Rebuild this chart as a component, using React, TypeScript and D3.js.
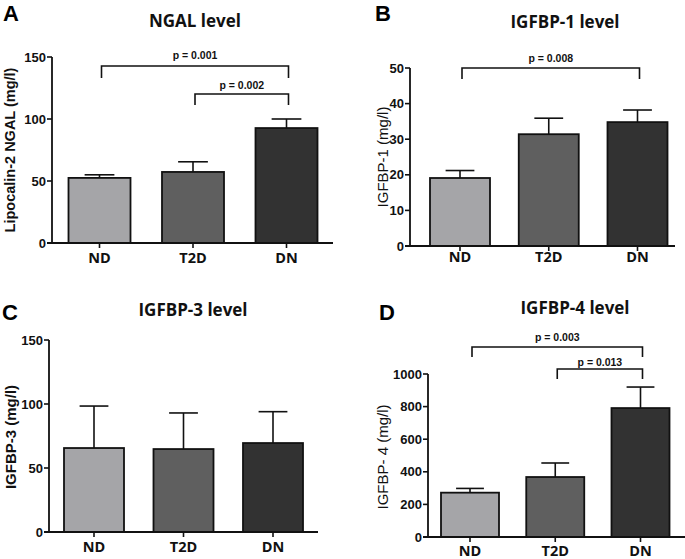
import React from "react";
import * as d3 from "d3";

const categories = ["ND", "T2D", "DN"];

const ngalMean = [52.5, 57.3, 92.7];
const ngalSem = [2.5, 8.2, 7.3];
const ngalTicks = [0, 50, 100, 150];

const igfbp1Mean = [19.1, 31.4, 34.8];
const igfbp1Sem = [2.1, 4.5, 3.4];
const igfbp1Ticks = [0, 10, 20, 30, 40, 50];

const igfbp3Mean = [65.6, 64.8, 69.5];
const igfbp3Sem = [32.8, 28.2, 24.5];
const igfbp3Ticks = [0, 50, 100, 150];

const igfbp4Mean = [272, 368, 791];
const igfbp4Sem = [26, 86, 129];
const igfbp4Ticks = [0, 200, 400, 600, 800, 1000];

const barColors = ["#a5a5a8", "#5f5f5f", "#323232"];

type Bracket = { from: number; to: number; label: string; y: number; drop: number; ly: number };

type PanelCfg = {
  letter: string;
  letterX: number;
  letterY: number;
  title: string;
  titleX: number;
  titleY: number;
  yLabel: string;
  yLabelX: number;
  yLabelY: number;
  yLabelWeight: number;
  yLabelSize: number;
  axisX: number;
  axisRight: number;
  y0: number;
  yTop: number;
  yMax: number;
  ticks: number[];
  firstCenter: number;
  lastCenter: number;
  barWidth: number;
  xLabelY: number;
  means: number[];
  sems: number[];
  brackets: Bracket[];
};

const panels: PanelCfg[] = [
  {
    letter: "A", letterX: 3, letterY: 20.5,
    title: "NGAL level", titleX: 195, titleY: 27,
    yLabel: "Lipocalin-2 NGAL (mg/l)", yLabelX: 10, yLabelY: 150,
    yLabelWeight: 700, yLabelSize: 14.5,
    axisX: 52, axisRight: 333, y0: 243, yTop: 57, yMax: 150, ticks: ngalTicks,
    firstCenter: 99.5, lastCenter: 286.5, barWidth: 62, xLabelY: 263,
    means: ngalMean, sems: ngalSem,
    brackets: [
      { from: 0, to: 2, label: "p = 0.001", y: 66, drop: 12, ly: 59 },
      { from: 1, to: 2, label: "p = 0.002", y: 94, drop: 11, ly: 89 },
    ],
  },
  {
    letter: "B", letterX: 375, letterY: 20.5,
    title: "IGFBP-1 level", titleX: 565, titleY: 28,
    yLabel: "IGFBP-1 (mg/l)", yLabelX: 382, yLabelY: 157,
    yLabelWeight: 400, yLabelSize: 15,
    axisX: 410, axisRight: 675, y0: 246, yTop: 68, yMax: 50, ticks: igfbp1Ticks,
    firstCenter: 460, lastCenter: 637.5, barWidth: 60, xLabelY: 262,
    means: igfbp1Mean, sems: igfbp1Sem,
    brackets: [{ from: 0, to: 2, label: "p = 0.008", y: 68, drop: 11, ly: 62 }],
  },
  {
    letter: "C", letterX: 2, letterY: 320,
    title: "IGFBP-3 level", titleX: 193, titleY: 316,
    yLabel: "IGFBP-3 (mg/l)", yLabelX: 10, yLabelY: 437,
    yLabelWeight: 700, yLabelSize: 15,
    axisX: 49, axisRight: 318, y0: 532, yTop: 340, yMax: 150, ticks: igfbp3Ticks,
    firstCenter: 94, lastCenter: 273, barWidth: 60, xLabelY: 552,
    means: igfbp3Mean, sems: igfbp3Sem,
    brackets: [],
  },
  {
    letter: "D", letterX: 379, letterY: 320,
    title: "IGFBP-4 level", titleX: 575, titleY: 314,
    yLabel: "IGFBP- 4 (mg/l)", yLabelX: 382, yLabelY: 457,
    yLabelWeight: 400, yLabelSize: 15,
    axisX: 428, axisRight: 685, y0: 537, yTop: 374, yMax: 1000, ticks: igfbp4Ticks,
    firstCenter: 470, lastCenter: 640.5, barWidth: 58, xLabelY: 556,
    means: igfbp4Mean, sems: igfbp4Sem,
    brackets: [
      { from: 0, to: 2, label: "p = 0.003", y: 347, drop: 10, ly: 341 },
      { from: 1, to: 2, label: "p = 0.013", y: 369, drop: 10, ly: 366 },
    ],
  },
];

const openSans = "'Open Sans', sans-serif";
const arial = "'Liberation Sans', Arial, sans-serif";

function Panel({ p }: { p: PanelCfg }) {
  const y = d3.scaleLinear().domain([0, p.yMax]).range([p.y0, p.yTop]);
  const step = (p.lastCenter - p.firstCenter) / (categories.length - 1);
  const x = d3
    .scalePoint<string>()
    .domain(categories)
    .range([p.firstCenter - step / 2, p.lastCenter + step / 2])
    .padding(0.5);
  const capW = p.barWidth * 0.48;
  return (
    <g>
      <text x={p.letterX} y={p.letterY} fontFamily={arial} fontWeight={700} fontSize={22} fill="#000">
        {p.letter}
      </text>
      <text x={p.titleX} y={p.titleY} textAnchor="middle" fontFamily={openSans} fontWeight={700} fontSize={17} fill="#111">
        {p.title}
      </text>
      <text
        transform={`translate(${p.yLabelX},${p.yLabelY}) rotate(-90)`}
        textAnchor="middle"
        dominantBaseline="central"
        fontFamily={arial}
        fontWeight={p.yLabelWeight}
        fontSize={p.yLabelSize}
        fill="#111"
      >
        {p.yLabel}
      </text>
      {categories.map((c, i) => {
        const cx = x(c)!;
        const top = y(p.means[i] + p.sems[i]);
        return (
          <g key={"e" + c}>
            <line x1={cx} x2={cx} y1={y(p.means[i])} y2={top} stroke="#111" strokeWidth={1.6} />
            <line x1={cx - capW / 2} x2={cx + capW / 2} y1={top} y2={top} stroke="#111" strokeWidth={1.6} />
          </g>
        );
      })}
      {categories.map((c, i) => {
        const cx = x(c)!;
        return (
          <rect
            key={"b" + c}
            x={cx - p.barWidth / 2}
            y={y(p.means[i])}
            width={p.barWidth}
            height={p.y0 - y(p.means[i])}
            fill={barColors[i]}
            stroke="#111"
            strokeWidth={1.8}
          />
        );
      })}
      <line x1={p.axisX} x2={p.axisX} y1={p.yTop} y2={p.y0} stroke="#111" strokeWidth={1.8} />
      {p.ticks.map((t) => (
        <g key={"t" + t}>
          <line x1={p.axisX - 5} x2={p.axisX} y1={y(t)} y2={y(t)} stroke="#111" strokeWidth={1.6} />
          <text
            x={p.axisX - 6}
            y={y(t)}
            textAnchor="end"
            dominantBaseline="central"
            fontFamily={arial}
            fontWeight={700}
            fontSize={13}
            fill="#111"
          >
            {t}
          </text>
        </g>
      ))}
      <line x1={p.axisX - 5} x2={p.axisRight} y1={p.y0} y2={p.y0} stroke="#111" strokeWidth={1.8} />
      {categories.map((c) => (
        <g key={"x" + c}>
          <line x1={x(c)!} x2={x(c)!} y1={p.y0} y2={p.y0 + 5} stroke="#111" strokeWidth={1.6} />
          <text x={x(c)!} y={p.xLabelY} textAnchor="middle" fontFamily={openSans} fontWeight={700} fontSize={14.5} fill="#111">
            {c}
          </text>
        </g>
      ))}
      {p.brackets.map((b) => {
        const x1 = x(categories[b.from])! + 2;
        const x2 = x(categories[b.to])! + 2;
        return (
          <g key={b.label}>
            <path
              d={`M${x1},${b.y + b.drop}V${b.y}H${x2}V${b.y + b.drop}`}
              fill="none"
              stroke="#111"
              strokeWidth={1.6}
            />
            <text x={(x1 + x2) / 2} y={b.ly} textAnchor="middle" fontFamily={arial} fontWeight={700} fontSize={10.5} fill="#111">
              {b.label}
            </text>
          </g>
        );
      })}
    </g>
  );
}

export default function App() {
  return (
    <svg
      width={685}
      height={559}
      viewBox="0 0 685 559"
      style={{ position: "absolute", left: 0, top: 0, background: "#fff" }}
    >
      <rect width={685} height={559} fill="#fff" />
      {panels.map((p) => (
        <Panel key={p.letter} p={p} />
      ))}
    </svg>
  );
}
